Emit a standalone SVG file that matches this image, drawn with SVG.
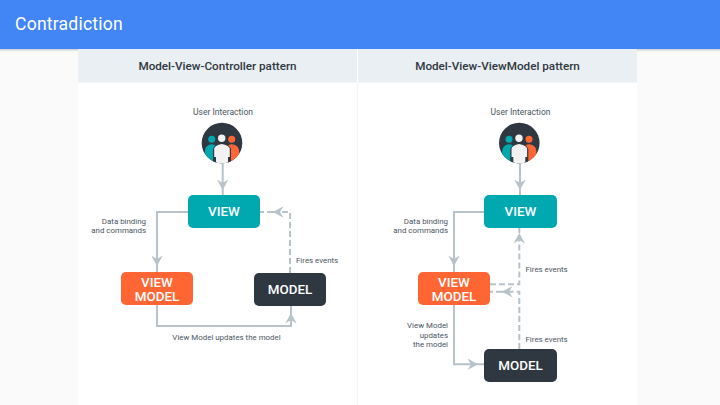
<svg xmlns="http://www.w3.org/2000/svg" width="720" height="405" viewBox="0 0 720 405">
<style>
text{font-family:Roboto,"Liberation Sans",sans-serif}
.hd{font-size:11.7px;font-weight:500;fill:#2f3741;text-anchor:middle}
.ui{font-size:8.5px;fill:#4a5560;text-anchor:middle}
.lb{font-size:7.9px;fill:#4a5560}
.e{text-anchor:end}.m{text-anchor:middle}
.nt{font-size:13.4px;font-weight:500;fill:#fff;text-anchor:middle}
.c{fill:none;stroke:#b8c3c9;stroke-width:2}
.d{stroke-dasharray:6 3}
.teal{fill:#00a9b0}.org{fill:#ff6634}.drk{fill:#2f3741}
</style>
<defs>
<linearGradient id="sh" x1="0" y1="0" x2="0" y2="1"><stop offset="0" stop-color="#9aa0a8" stop-opacity=".55"/><stop offset="1" stop-color="#fff" stop-opacity="0"/></linearGradient>
<marker id="a" viewBox="0 0 11 12" refX="10.500" refY="6" markerWidth="11" markerHeight="12" markerUnits="userSpaceOnUse" orient="auto"><path d="M0 0.300 L10.500 6 L0 11.700 L3.500 6 Z" fill="#b8c3c9"/></marker>
<clipPath id="cc"><circle cx="0" cy="0" r="20.300"/></clipPath>
<g id="ppl">
<circle cx="0" cy="0" r="20.300" fill="#2f3741"/>
<g clip-path="url(#cc)">
<circle cx="-10.300" cy="-3.700" r="3.500" fill="#00a9b0"/>
<path d="M-17 22V7Q-16 2-10.300 1.300Q-4.500 2-3.500 7V22Z" fill="#00a9b0"/>
<circle cx="9.700" cy="-3.700" r="3.500" fill="#ff6634"/>
<path d="M17 22V7Q16 2 9.700 1.300Q4 2 3 7V22Z" fill="#ff6634"/>
<path d="M-9 22V6Q-7.500 1.500-0.300 0.300Q7.500 1.500 9 6V22Z" fill="#2f3741"/>
<circle cx="-0.300" cy="-4.700" r="3.700" fill="#f2f2f2"/>
<path d="M-7.800 14V5.500Q-6.800 2-0.300 1Q6.800 2 7.800 5.500V14H6V22H-6V14Z" fill="#f2f2f2"/>
</g>
</g>
</defs>
<rect width="720" height="405" fill="#fafafa"/>
<rect y="49" width="720" height="4" fill="url(#sh)"/>
<rect width="720" height="49" fill="#4285f4"/>
<text x="15" y="30" font-size="17.600" fill="#fff" letter-spacing=".2">Contradiction</text>
<rect x="78" y="49" width="559" height="356" fill="#fff"/>
<rect x="78" y="49" width="279" height="33.500" fill="#e9eff2"/>
<rect x="358" y="49" width="279" height="33.500" fill="#e9eff2"/>
<rect x="357" y="82" width="1" height="323" fill="#f2f4f5"/>
<text class="hd" x="217.500" y="70">Model-View-Controller pattern</text>
<text class="hd" x="497.500" y="70">Model-View-ViewModel pattern</text>
<g id="connectors">
<path class="c" d="M222.700 164V190" marker-end="url(#a)"/><path class="c" d="M222.700 190V195"/>
<path class="c" d="M188 212H157V266" marker-end="url(#a)"/><path class="c" d="M157 266V272"/>
<path class="c d" d="M290 273V212H273" marker-end="url(#a)"/><path class="c d" d="M273 212H260"/>
<path class="c" d="M157 305V326H291V313" marker-end="url(#a)"/><path class="c" d="M291 313V306"/>
<path class="c" d="M520 164V190" marker-end="url(#a)"/><path class="c" d="M520 190V195"/>
<path class="c" d="M484 212H454V266" marker-end="url(#a)"/><path class="c" d="M454 266V272"/>
<path class="c d" d="M490 284.300H519.300V233" marker-end="url(#a)"/><path class="c d" d="M519.300 233V228"/>
<path class="c d" d="M519.300 349V291.700H502" marker-end="url(#a)"/><path class="c d" d="M502 291.700H490"/>
<path class="c" d="M454 305V364.300H478" marker-end="url(#a)"/><path class="c" d="M478 364.300H484"/>
</g>
<g id="user-left">
<text class="ui" x="223" y="115">User Interaction</text>
<use href="#ppl" x="222" y="143"/>
</g>
<g id="user-right">
<text class="ui" x="520.500" y="115">User Interaction</text>
<use href="#ppl" x="519.300" y="143"/>
</g>
<g id="view-left"><rect class="teal" x="188" y="195" width="72" height="33" rx="5"/><text class="nt" x="224" y="216">VIEW</text></g>
<g id="viewmodel-left"><rect class="org" x="121" y="272" width="72" height="33" rx="5"/><text class="nt" x="157" y="287">VIEW</text><text class="nt" x="157" y="300.500">MODEL</text></g>
<g id="model-left"><rect class="drk" x="254" y="273" width="72" height="33" rx="5"/><text class="nt" x="290" y="294">MODEL</text></g>
<g id="view-right"><rect class="teal" x="484" y="195" width="73" height="33" rx="5"/><text class="nt" x="520.500" y="216">VIEW</text></g>
<g id="viewmodel-right"><rect class="org" x="418" y="272" width="72" height="33" rx="5"/><text class="nt" x="454" y="287">VIEW</text><text class="nt" x="454" y="300.500">MODEL</text></g>
<g id="model-right"><rect class="drk" x="484" y="349" width="73" height="33" rx="5"/><text class="nt" x="520.500" y="370">MODEL</text></g>
<g id="labels">
<text class="lb e" x="146" y="224">Data binding</text>
<text class="lb e" x="146" y="233">and commands</text>
<text class="lb" x="296" y="263">Fires events</text>
<text class="lb m" x="226.500" y="340">View Model updates the model</text>
<text class="lb e" x="448" y="224">Data binding</text>
<text class="lb e" x="448" y="233">and commands</text>
<text class="lb" x="525.500" y="272">Fires events</text>
<text class="lb e" x="448" y="328">View Model</text>
<text class="lb e" x="448" y="337.500">updates</text>
<text class="lb e" x="448" y="346.500">the model</text>
<text class="lb" x="525.500" y="341.500">Fires events</text>
</g>
</svg>
